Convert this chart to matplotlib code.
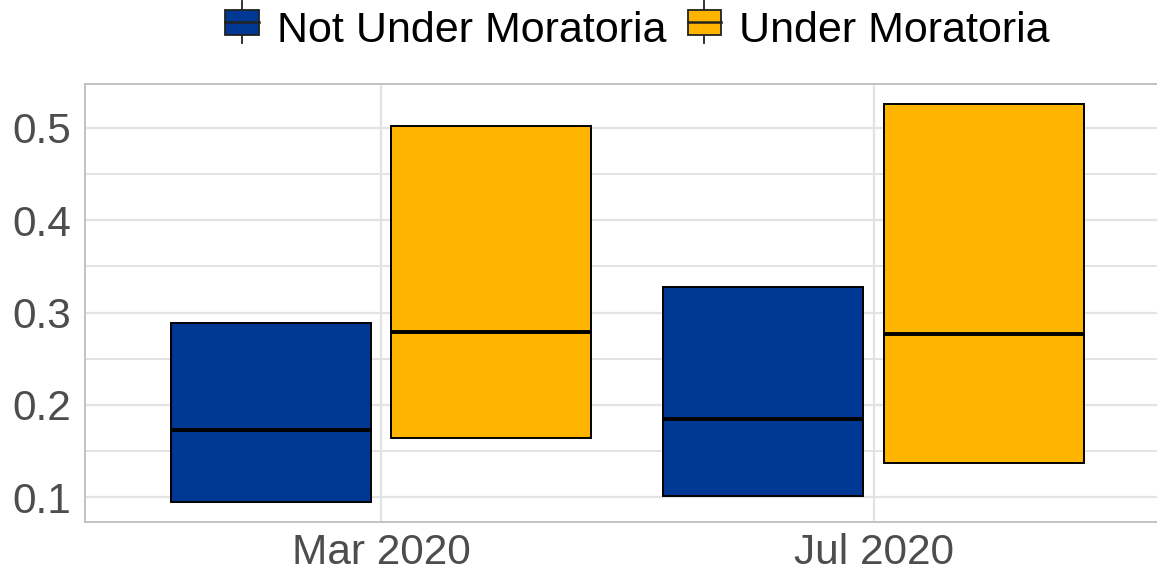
import numpy as np
import matplotlib.pyplot as plt
from matplotlib.legend_handler import HandlerBase
from matplotlib.patches import Rectangle
from matplotlib.lines import Line2D

plt.rcParams['font.family'] = ['Liberation Sans', 'DejaVu Sans']

periods = ['Mar 2020', 'Jul 2020']
groups = ['Not Under Moratoria', 'Under Moratoria']
colors = ['#003893', '#FFB500']

# box stats per group: lower hinge, median, upper hinge (one value per period)
q1 = {'Not Under Moratoria': [0.0952, 0.1019], 'Under Moratoria': [0.1645, 0.1368]}
med = {'Not Under Moratoria': [0.1732, 0.1847], 'Under Moratoria': [0.2789, 0.2767]}
q3 = {'Not Under Moratoria': [0.2887, 0.3276], 'Under Moratoria': [0.5018, 0.5257]}

fig = plt.figure(figsize=(11.57, 5.72), dpi=100)
ax = fig.add_axes([0.0737, 0.0879, 0.937, 0.7652])

offsets = [-0.224, 0.224]
width = 0.406
x = np.arange(1, len(periods) + 1)

for g, grp in enumerate(groups):
    stats = []
    for i in range(len(periods)):
        stats.append(dict(med=med[grp][i], q1=q1[grp][i], q3=q3[grp][i],
                          whislo=q1[grp][i], whishi=q3[grp][i], fliers=[]))
    ax.bxp(stats, positions=x + offsets[g], widths=width, patch_artist=True,
           showcaps=False, manage_ticks=False,
           boxprops=dict(facecolor=colors[g], edgecolor='black', linewidth=1.4),
           medianprops=dict(color='black', linewidth=2.8),
           whiskerprops=dict(linewidth=0), zorder=3)

ax.set_xlim(0.4, 2.6)
ax.set_ylim(0.0736, 0.5473)
ax.set_xticks(x)
ax.set_xticklabels(periods)
ax.set_yticks([0.1, 0.2, 0.3, 0.4, 0.5])
ax.set_yticks([0.15, 0.25, 0.35, 0.45], minor=True)
ax.yaxis.set_major_formatter(plt.FuncFormatter(lambda v, p: f'{v:.1f}'))
ax.tick_params(axis='both', which='both', length=0, labelsize=30.5,
               labelcolor='#4D4D4D')
ax.tick_params(axis='y', pad=10)
ax.tick_params(axis='x', pad=8)
ax.grid(True, which='major', color='#E3E3E3', linewidth=1.6, zorder=0)
ax.grid(True, which='minor', axis='y', color='#E3E3E3', linewidth=1.4, zorder=0)
ax.set_axisbelow(True)
for s in ax.spines.values():
    s.set_color('#C2C2C2')
    s.set_linewidth(1.4)


class BoxKey(HandlerBase):
    def create_artists(self, legend, orig, xd, yd, w, h, fs, trans):
        yd = yd + 0.44 * h  # key sits a bit above the text centre
        cx = xd + w / 2
        line = Line2D([cx, cx], [yd - h * 0.36, yd + h * 1.36], color='#222222',
                      linewidth=1.3, transform=trans)
        box = Rectangle((xd, yd), w, h, facecolor=orig.get_facecolor(),
                        edgecolor='#222222', linewidth=1.3, transform=trans)
        mid = Line2D([xd, xd + w], [yd + h / 2, yd + h / 2], color='#222222',
                     linewidth=1.8, transform=trans)
        return [line, box, mid]


handles = [Rectangle((0, 0), 1, 1, facecolor=c) for c in colors]
fig.legend(handles, groups, handler_map={Rectangle: BoxKey()},
           loc='upper center', bbox_to_anchor=(0.551, 1.048), ncol=2,
           frameon=False, fontsize=31, handlelength=0.77, handleheight=0.5,
           handletextpad=0.42, columnspacing=0.5)

fig.savefig('out.png', dpi=100)
